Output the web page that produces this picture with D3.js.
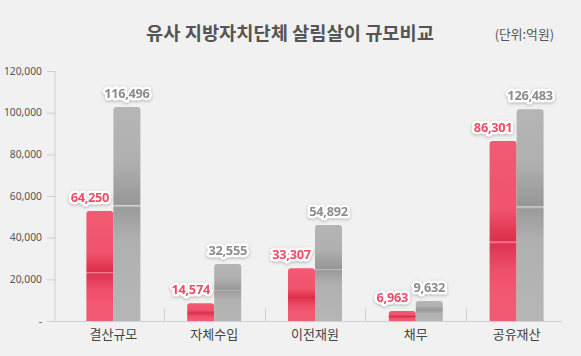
<!DOCTYPE html>
<html><head><meta charset="utf-8">
<script src="https://cdn.jsdelivr.net/npm/d3@7"></script>
<style>
html,body{margin:0;padding:0;background:#f1f1f1;}
svg{display:block;font-family:"Noto Sans","Noto Sans CJK KR",sans-serif;}
</style></head>
<body>
<svg id="chart" width="581" height="356"></svg>
<script>
const categories = ["결산규모","자체수입","이전재원","채무","공유재산"];
// bar heights as drawn in the reference (억원)
const barRed  = [52800, 8500, 25300, 4800, 86400];
const barGray = [102700, 27400, 46100, 9600, 101600];
// value labels as printed in the reference
const labelRed  = ["64,250","14,574","33,307","6,963","86,301"];
const labelGray = ["116,496","32,555","54,892","9,632","126,483"];
const yTicks = [0,20000,40000,60000,80000,100000,120000];
const title = "유사 지방자치단체 살림살이 규모비교";
const unit = "(단위:억원)";

const svg = d3.select("#chart");
svg.append("rect").attr("width",581).attr("height",356).attr("fill","#f1f1f1");

const defs = svg.append("defs");
function grad(id, stops){
  const g = defs.append("linearGradient").attr("id",id)
    .attr("x1",0).attr("y1",0).attr("x2",0).attr("y2",1);
  stops.forEach(s=>g.append("stop").attr("offset",s[0]).attr("stop-color",s[1]));
}
grad("gRed", [[0,"#f25a73"],[0.38,"#f0536c"],[0.555,"#dc2e4a"],[0.56,"#f6889a"],[0.572,"#de3450"],[0.72,"#ee4f69"],[0.85,"#f2596f"],[1,"#f25a73"]]);
grad("gGray",[[0,"#b5b5b5"],[0.25,"#b0b0b0"],[0.455,"#979797"],[0.46,"#d2d2d2"],[0.47,"#9b9b9b"],[0.62,"#b0b0b0"],[1,"#b6b6b6"]]);

const x = d3.scaleBand().domain(categories).range([63,567]);
const y = d3.scaleLinear().domain([0,120000]).range([321,71]);

// title
svg.append("text").attr("x",290).attr("y",40).attr("text-anchor","middle")
  .attr("font-family","'Noto Sans CJK KR'").attr("font-size",18.7).attr("font-weight","bold")
  .attr("fill","#555").text(title);
svg.append("text").attr("x",554).attr("y",39).attr("text-anchor","end")
  .attr("font-family","'Noto Sans CJK KR'").attr("font-size",12.8)
  .attr("fill","#555").text(unit);

// y axis
const yAxis = d3.axisLeft(y).tickValues(yTicks).tickSize(8).tickPadding(5)
  .tickFormat(d=> d===0 ? "-" : d3.format(",")(d));
const yg = svg.append("g").attr("transform","translate(55,0)").call(yAxis);
yg.select(".domain").attr("stroke","#c9d1da").attr("d","M0,71V321");
yg.selectAll(".tick line").attr("stroke","#c9d1da");
yg.selectAll(".tick text").attr("fill","#555").attr("font-size",10.3)
  .attr("font-family","'Noto Sans'");

// x axis baseline and separators
svg.append("line").attr("x1",55).attr("x2",562).attr("y1",y(0)+0.5).attr("y2",y(0)+0.5)
  .attr("stroke","#c9d1da");
const seps = categories.slice(1).map(c=>x(c));
svg.selectAll(".sep").data(seps).enter().append("line")
  .attr("x1",d=>Math.round(d)+0.5).attr("x2",d=>Math.round(d)+0.5)
  .attr("y1",y(0)-13).attr("y2",y(0)).attr("stroke","#c9d1da");
svg.selectAll(".cat").data(categories).enter().append("text")
  .attr("x",d=>x(d)+x.bandwidth()/2).attr("y",339).attr("text-anchor","middle")
  .attr("font-family","'Noto Sans CJK KR'").attr("font-size",13).attr("fill","#444")
  .text(d=>d);

const bw = 27;
function barPath(x0, y0, w, h, r){
  r = Math.min(r, h/2);
  return `M${x0},${y0+h}V${y0+r}Q${x0},${y0} ${x0+r},${y0}H${x0+w-r}Q${x0+w},${y0} ${x0+w},${y0+r}V${y0+h}Z`;
}
const groups = categories.map((c,i)=>({c,i}));
svg.selectAll(".bR").data(groups).enter().append("path")
  .attr("d",d=>{const cx=x(d.c)+x.bandwidth()/2; return barPath(cx-bw, y(barRed[d.i]), bw, y(0)-y(barRed[d.i]), 3);})
  .attr("fill","url(#gRed)");
svg.selectAll(".bG").data(groups).enter().append("path")
  .attr("d",d=>{const cx=x(d.c)+x.bandwidth()/2; return barPath(cx, y(barGray[d.i]), bw, y(0)-y(barGray[d.i]), 3);})
  .attr("fill","url(#gGray)");

// labels with white halo
function label(sel, xs, ys, txt, color){
  sel.append("text").attr("x",xs).attr("y",ys).attr("text-anchor","middle")
    .attr("font-size",12.8).attr("font-weight","bold").attr("fill",color)
    .attr("stroke","#fff").attr("stroke-width",5).attr("stroke-linejoin","round")
    .attr("paint-order","stroke")
    .style("filter","drop-shadow(0px 1px 1.5px rgba(0,0,0,0.25))")
    .attr("letter-spacing",-0.3)
    .text(txt);
}
groups.forEach(d=>{
  const cx = x(d.c)+x.bandwidth()/2;
  label(svg, cx-bw/2-10, y(barRed[d.i])-9, labelRed[d.i], "#ef4d67");
  label(svg, cx+bw/2, y(barGray[d.i])-9, labelGray[d.i], "#8c8c8c");
});
</script>
</body></html>
